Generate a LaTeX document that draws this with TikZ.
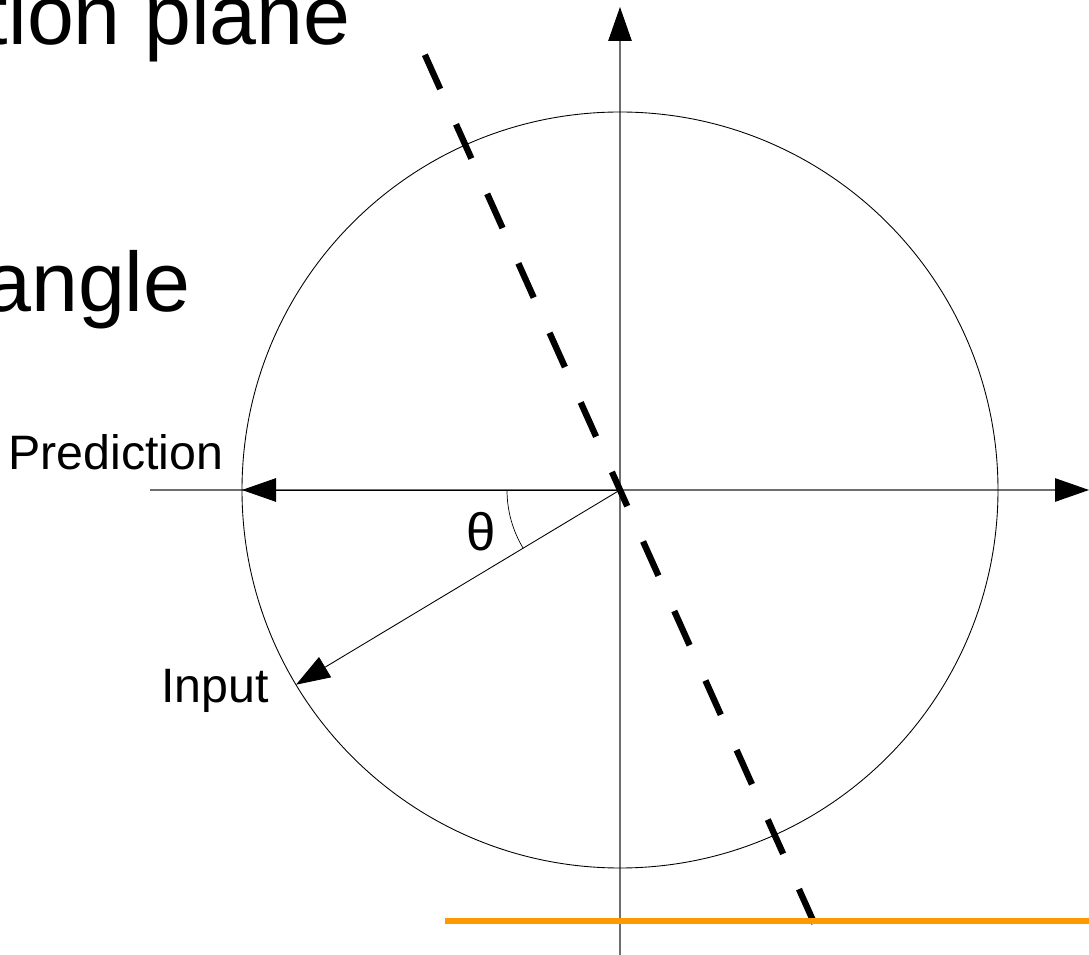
\documentclass[tikz,border=0pt]{standalone}
\usepackage{fontspec}
\setmainfont{Liberation Sans}
\usetikzlibrary{arrows.meta,calc}
\definecolor{axisgray}{RGB}{110,110,110}
\definecolor{lineorange}{RGB}{255,153,0}
\tikzset{
  tip/.style={-{Triangle[length=0.68cm,width=0.47cm,color=black]}},
  axis/.style={axisgray, line width=0.6pt, tip},
  label/.style={inner sep=0pt, font=\fontsize{27.5}{33}\selectfont},
  big/.style={inner sep=0pt, font=\fontsize{48}{56}\selectfont}
}
\begin{document}
\begin{tikzpicture}
  \useasboundingbox (0,0) rectangle (21.78,19.1);
  \coordinate (O) at (12.4,9.3);
  \coordinate (xl) at (3.0,9.3);
  \coordinate (xr) at (21.78,9.3);
  \coordinate (yb) at (12.4,0);
  \coordinate (yt) at (12.4,18.96);
  \coordinate (pred) at ($(O)+(180:7.56)$);
  \coordinate (inp) at ($(O)+(211:7.56)$);
  \coordinate (da) at ($(O)+(114.15:9.54)$);
  \coordinate (db) at ($(O)+(-65.85:9.54)$);
  \coordinate (ol) at (8.9,0.68);
  \coordinate (or) at (21.78,0.68);
  \node[big, anchor=base east] (title) at (7.02,18.2) {tion plane};
  \node[big, anchor=base east] (ang) at (3.82,12.86) {angle};
  \draw[axis] (xl)--(xr);
  \draw[axis] (yb)--(yt);
  \draw[line width=0.5pt] (O) circle (7.56);
  \draw[tip, line width=0.5pt] (O)--(pred);
  \draw[tip, line width=0.5pt] (O)--(inp);
  \draw[line width=0.4pt] (O) ++(180:2.26) arc (180:211:2.26);
  \node[inner sep=0pt, font=\fontsize{30}{36}\selectfont] (th) at (9.62,8.46) {θ};
  \node[label, anchor=base west] (lp) at (0.16,9.7) {Prediction};
  \node[label, anchor=base west] (li) at (3.22,5.04) {Input};
  \draw[line width=3.6pt, dash pattern=on 0.75cm off 0.774cm] (da)--(db);
  \draw[lineorange, line width=3.1pt] (ol)--(or);
\end{tikzpicture}
\end{document}
